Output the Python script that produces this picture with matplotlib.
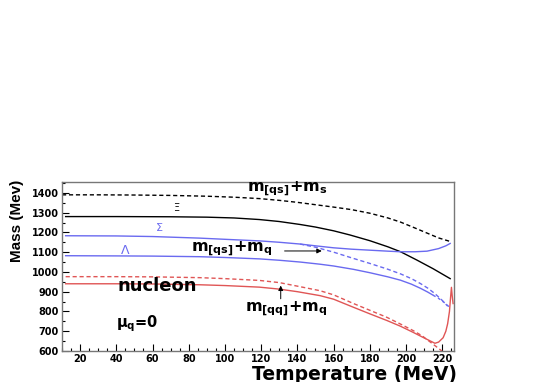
import matplotlib
matplotlib.use("Agg")
import matplotlib.pyplot as plt
from matplotlib.ticker import MultipleLocator

# curves (T in MeV, mass in MeV)
t_qs_ms = [10, 30, 50, 70, 90, 105, 119, 130, 140, 150, 160, 170, 180, 190,
           197, 205, 212, 218, 224.4]
m_qs_ms = [1390, 1390, 1389, 1387, 1383, 1378, 1371, 1362, 1352, 1340, 1328,
           1315, 1297, 1273, 1252, 1222, 1195, 1172, 1154]

t_xi = [12, 40, 70, 90, 105, 119, 130, 141.5, 150, 160, 169, 180, 190, 197,
        206, 215, 224.4]
m_xi = [1280, 1280, 1279, 1277, 1273, 1265, 1255, 1240, 1227, 1208, 1187,
        1158, 1127, 1102, 1060, 1016, 966]

t_sigma = [12, 40, 60, 86, 100, 119, 130, 141.5, 150, 160, 170, 180, 190,
           197, 205, 211.6, 218, 222, 224.4]
m_sigma = [1183, 1182, 1179, 1171, 1165, 1157, 1150, 1141, 1132, 1122, 1115,
           1110, 1105, 1102, 1102, 1105, 1118, 1132, 1144]

t_qs_mq = [141.5, 150, 160, 170, 180, 189.5, 197, 203, 208, 212, 216, 220, 223]
m_qs_mq = [1141, 1125, 1100, 1071, 1043, 1015, 990, 966, 941, 918, 890, 856, 827]

t_lambda = [12, 40, 60, 86, 100, 119, 130, 141.5, 152.5, 160, 171, 180, 190,
            197, 203, 208, 212, 215]
m_lambda = [1082, 1081, 1080, 1077, 1073, 1066, 1059, 1050, 1039, 1030, 1013,
            996, 975, 958, 938, 917, 898, 882]
t_lambda_ext = [215, 218, 221, 224]
m_lambda_ext = [882, 866, 846, 822]

t_qq_mq = [12, 40, 60, 86, 100, 119, 130, 140, 152.5, 160, 171, 180, 189.5,
           197, 204, 209, 213, 217, 219.5, 221]
m_qq_mq = [976, 976, 975, 971, 966, 957, 946, 928, 905, 884, 840, 806, 770,
           736, 703, 676, 648, 620, 602, 590]

t_nucleon = [12, 40, 60, 86, 100, 119, 130, 140, 152.5, 160, 171, 180, 189.5,
             197, 204, 210, 214, 216, 218, 220.5, 222, 223, 224, 224.6, 225.1,
             225.5, 226]
m_nucleon = [940, 940, 939, 935, 931, 923, 913, 900, 880, 862, 821, 788, 754,
             725, 694, 666, 648, 639, 645, 667, 700, 738, 800, 870, 922, 880,
             840]

blue = "#6a6af0"
red = "#e05555"

plt.rcParams["mathtext.fontset"] = "custom"
plt.rcParams["mathtext.rm"] = "DejaVu Sans:bold"
plt.rcParams["mathtext.it"] = "DejaVu Sans:bold"
plt.rcParams["mathtext.bf"] = "DejaVu Sans:bold"

fig = plt.figure(figsize=(5.45, 3.82), dpi=100)
ax = fig.add_axes([0.1138, 0.0812, 0.7192, 0.4424])

ax.plot(t_qs_ms, m_qs_ms, color="black", lw=1, ls=(0, (3, 2)))
ax.plot(t_xi, m_xi, color="black", lw=1)
ax.plot(t_sigma, m_sigma, color=blue, lw=1)
ax.plot(t_qs_mq, m_qs_mq, color=blue, lw=1, ls=(0, (3, 2)))
ax.plot(t_lambda, m_lambda, color=blue, lw=1)
ax.plot(t_lambda_ext, m_lambda_ext, color=blue, lw=1, ls=(0, (2, 2)))
ax.plot(t_qq_mq, m_qq_mq, color=red, lw=1, ls=(0, (3, 2)))
ax.plot(t_nucleon, m_nucleon, color=red, lw=1)

ax.set_xlim(10, 226.5)
ax.set_ylim(600, 1455)

ax.xaxis.set_major_locator(MultipleLocator(20))
ax.xaxis.set_minor_locator(MultipleLocator(5))
ax.yaxis.set_major_locator(MultipleLocator(100))
ax.yaxis.set_minor_locator(MultipleLocator(50))
ax.tick_params(which="both", direction="in", top=False, right=False,
               labelsize=7)
ax.tick_params(which="major", length=5, width=0.8, pad=2.5)
ax.tick_params(which="minor", length=2.5, width=0.8)
for lab in ax.get_xticklabels() + ax.get_yticklabels():
    lab.set_fontweight("bold")
for s in ax.spines.values():
    s.set_color("#777777")
    s.set_linewidth(1)

# annotations
ax.text(112, 1403, r"$m_{[qs]}$+$m_s$", fontsize=11.5, fontweight="bold",
        va="baseline")
ax.text(73, 1323, "Ξ", fontsize=7, ha="center", va="center", color="black")
ax.text(64, 1222, "Σ", fontsize=8, ha="center", va="center", color=blue)
ax.text(44.8, 1106, "Λ", fontsize=9, ha="center", va="center", color=blue)
ax.text(81, 1102, r"$m_{[qs]}$+$m_q$", fontsize=11.5, fontweight="bold",
        va="baseline")
ax.annotate("", xy=(155, 1106), xytext=(131.4, 1106),
            arrowprops=dict(arrowstyle="-|>", color="black", lw=0.7,
                            mutation_scale=7))
ax.text(40.4, 905, "nucleon", fontsize=13, fontweight="bold", va="baseline")
ax.text(111, 799, r"$m_{[qq]}$+$m_q$", fontsize=11.5, fontweight="bold",
        va="baseline")
ax.annotate("", xy=(130.8, 945), xytext=(130.8, 850),
            arrowprops=dict(arrowstyle="-|>", color="black", lw=0.7,
                            mutation_scale=7))
ax.text(40, 722, r"$\mu_q$=0", fontsize=10.5, fontweight="bold",
        va="baseline")

fig.text(0.838, -0.004, "Temperature (MeV)", fontsize=13.5, fontweight="bold",
         ha="right", va="bottom")
fig.text(0.031, 0.53, "Mass (Mev)", fontsize=11, fontweight="bold",
         family=["Liberation Sans Narrow", "Liberation Sans", "DejaVu Sans"],
         rotation=90, ha="center", va="top")

fig.savefig("out.png", dpi=100)
